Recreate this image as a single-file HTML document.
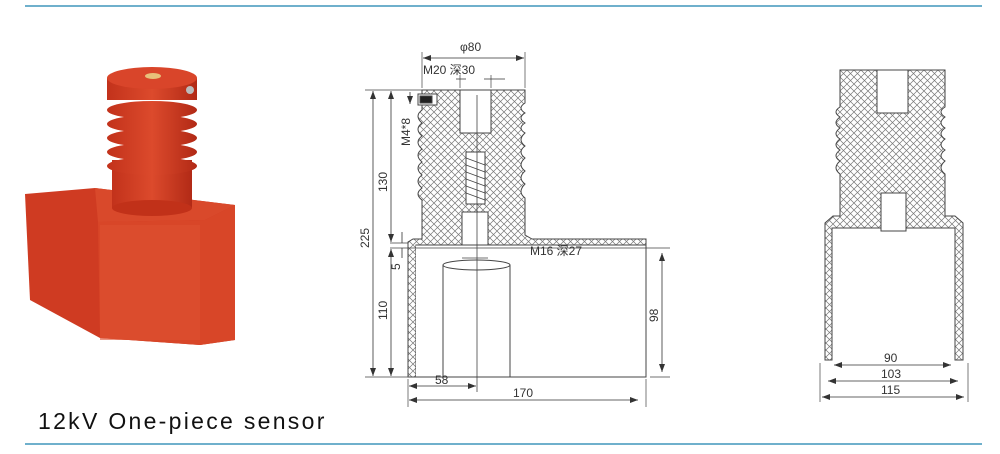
<!DOCTYPE html>
<html><head><meta charset="utf-8"><style>
html,body{margin:0;padding:0;background:#fff;}
svg{display:block}
text{font-family:"Liberation Sans","Noto Sans CJK SC",sans-serif;fill:#333}
</style></head><body>
<svg width="1000" height="454" viewBox="0 0 1000 454" xmlns="http://www.w3.org/2000/svg">
<defs>
<pattern id="h" width="7" height="7" patternUnits="userSpaceOnUse">
<path d="M0,0L7,7M7,0L0,7" stroke="#777" stroke-width="0.7"/>
</pattern>
<marker id="a" markerWidth="8" markerHeight="6" refX="8" refY="3" orient="auto-start-reverse" markerUnits="userSpaceOnUse"><path d="M0,0L8,3L0,6z" fill="#333"/></marker>
<linearGradient id="r" x1="0" x2="1"><stop offset="0" stop-color="#c2321b"/><stop offset="0.5" stop-color="#dc4a2c"/><stop offset="1" stop-color="#b22a16"/></linearGradient>
</defs>
<line x1="25" y1="6" x2="982" y2="6" stroke="#6fb0cc" stroke-width="2"/>
<line x1="25" y1="444" x2="982" y2="444" stroke="#6fb0cc" stroke-width="2"/>

<!-- photo -->
<polygon points="25,194 95,188 235,205 235,340 200,345 100,338 30,300" fill="#cf3b22"/>
<polygon points="95,188 235,205 205,220 98,222" fill="#d9492b"/>
<polygon points="98,222 205,220 235,205 235,340 200,345 100,338" fill="#d84628"/>
<rect x="100" y="225" width="100" height="115" fill="#dd5030" opacity="0.6"/>
<rect x="112" y="160" width="80" height="48" fill="url(#r)"/>
<ellipse cx="152" cy="208" rx="40" ry="8" fill="#c13119"/>
<g fill="url(#r)">
<ellipse cx="152" cy="166" rx="45" ry="9"/>
<ellipse cx="152" cy="152" rx="45" ry="9"/>
<ellipse cx="152" cy="138" rx="45" ry="9"/>
<ellipse cx="152" cy="124" rx="45" ry="9"/>
<ellipse cx="152" cy="110" rx="45" ry="9"/>
</g>
<rect x="107" y="78" width="90" height="22" fill="url(#r)"/>
<ellipse cx="152" cy="78" rx="45" ry="11" fill="#d9452a"/>
<ellipse cx="153" cy="76" rx="8" ry="3" fill="#e8c07a"/>
<circle cx="190" cy="90" r="4" fill="#bbb"/>

<text x="38" y="429" font-size="23" letter-spacing="2.3" style="fill:#111">12kV One-piece sensor</text>

<!-- middle drawing -->
<g stroke="#444" stroke-width="1" fill="none">
<path d="M422,90 H525 V103 Q517,108 525,113 Q517,118 525,123 Q517,128 525,133 Q517,140 525,146 Q517,152 525,158 Q517,165 525,171 Q517,178 525,184 Q517,192 525,198 V235 L532,239 H646 V245 H416 V377 H408 V242 L413,239 H422 V200 Q414,194 422,188 Q414,181 422,175 Q414,168 422,162 Q414,155 422,149 Q414,142 422,136 Q414,129 422,123 Q414,116 422,110 Z" fill="url(#h)"/>
<rect x="460" y="90" width="31" height="43" fill="#fff"/>
<rect x="462" y="212" width="26" height="36" fill="#fff"/>
<rect x="466" y="152" width="19" height="52" fill="#fff"/>
<path d="M466,158 L485,165 M466,165 L485,172 M466,172 L485,179 M466,179 L485,186 M466,186 L485,193 M466,193 L485,200" stroke-width="0.8"/>
<rect x="416" y="245" width="230" height="132" fill="#fff" stroke="none"/>
<path d="M416,245 H646 V377 H416"/>
<path d="M443,377 V265 M510,377 V265"/>
<ellipse cx="476.5" cy="265" rx="33.5" ry="5" fill="#fff"/>
<rect x="418" y="94" width="19" height="11" fill="#fff"/>
<rect x="420" y="96" width="12" height="7" fill="#222"/>
<line x1="477" y1="95" x2="477" y2="392" stroke-width="0.8"/>
<path d="M422,88 V52 M525,88 V52 M460,88 V75 M491,88 V75 M365,90 H422 M365,377 H408 M390,248 H670 M390,243 H408 M650,377 H670 M408,379 V407 M646,379 V407 M462,258 H488" stroke-width="0.7"/>
</g>
<g stroke="#333" stroke-width="0.8" fill="none" marker-start="url(#a)" marker-end="url(#a)">
<line x1="423" y1="58" x2="524" y2="58"/>
<line x1="373" y1="91" x2="373" y2="376"/>
<line x1="391" y1="91" x2="391" y2="242"/>
<line x1="391" y1="249" x2="391" y2="376"/>
<line x1="662" y1="253" x2="662" y2="372"/>
<line x1="409" y1="386" x2="476" y2="386"/>
<line x1="409" y1="400" x2="638" y2="400"/>
<line x1="410" y1="92" x2="410" y2="104" marker-start="none"/>
</g>
<path d="M402,232 V243 M402,248 V258 M456,79 H466 M484,79 H505" stroke="#333" stroke-width="0.8"/>
<g font-size="12">
<text x="460" y="51">φ80</text>
<text x="423" y="74">M20 深30</text>
<text x="530" y="255">M16 深27</text>
<text x="435" y="384">58</text>
<text x="513" y="397">170</text>
<text transform="translate(369,248) rotate(-90)">225</text>
<text transform="translate(387,192) rotate(-90)">130</text>
<text transform="translate(387,320) rotate(-90)">110</text>
<text transform="translate(400,270) rotate(-90)">5</text>
<text transform="translate(410,146) rotate(-90)">M4*8</text>
<text transform="translate(658,322) rotate(-90)">98</text>
</g>

<!-- right drawing -->
<g stroke="#444" stroke-width="1" fill="none">
<path d="M840,70 H945 V107 Q937,112 945,117 Q937,123 945,128 Q937,134 945,139 Q937,145 945,150 Q937,156 945,161 Q937,168 945,174 V216 H955 L963,223 V360 H955 V228 H832 V360 H825 V223 L833,216 H840 V174 Q832,168 840,161 Q832,156 840,150 Q832,145 840,139 Q832,134 840,128 Q832,123 840,117 Q832,112 840,107 Z" fill="url(#h)"/>
<rect x="877" y="70" width="31" height="43" fill="#fff"/>
<rect x="881" y="193" width="25" height="38" fill="#fff"/>
<path d="M820,363 V402 M968,363 V402" stroke-width="0.7"/>
</g>
<g stroke="#333" stroke-width="0.8" fill="none" marker-start="url(#a)" marker-end="url(#a)">
<line x1="834" y1="365" x2="951" y2="365"/>
<line x1="828" y1="381" x2="958" y2="381"/>
<line x1="822" y1="397" x2="964" y2="397"/>
</g>
<g font-size="12">
<text x="884" y="362">90</text>
<text x="881" y="378">103</text>
<text x="881" y="394">115</text>
</g>
</svg>
</body></html>
